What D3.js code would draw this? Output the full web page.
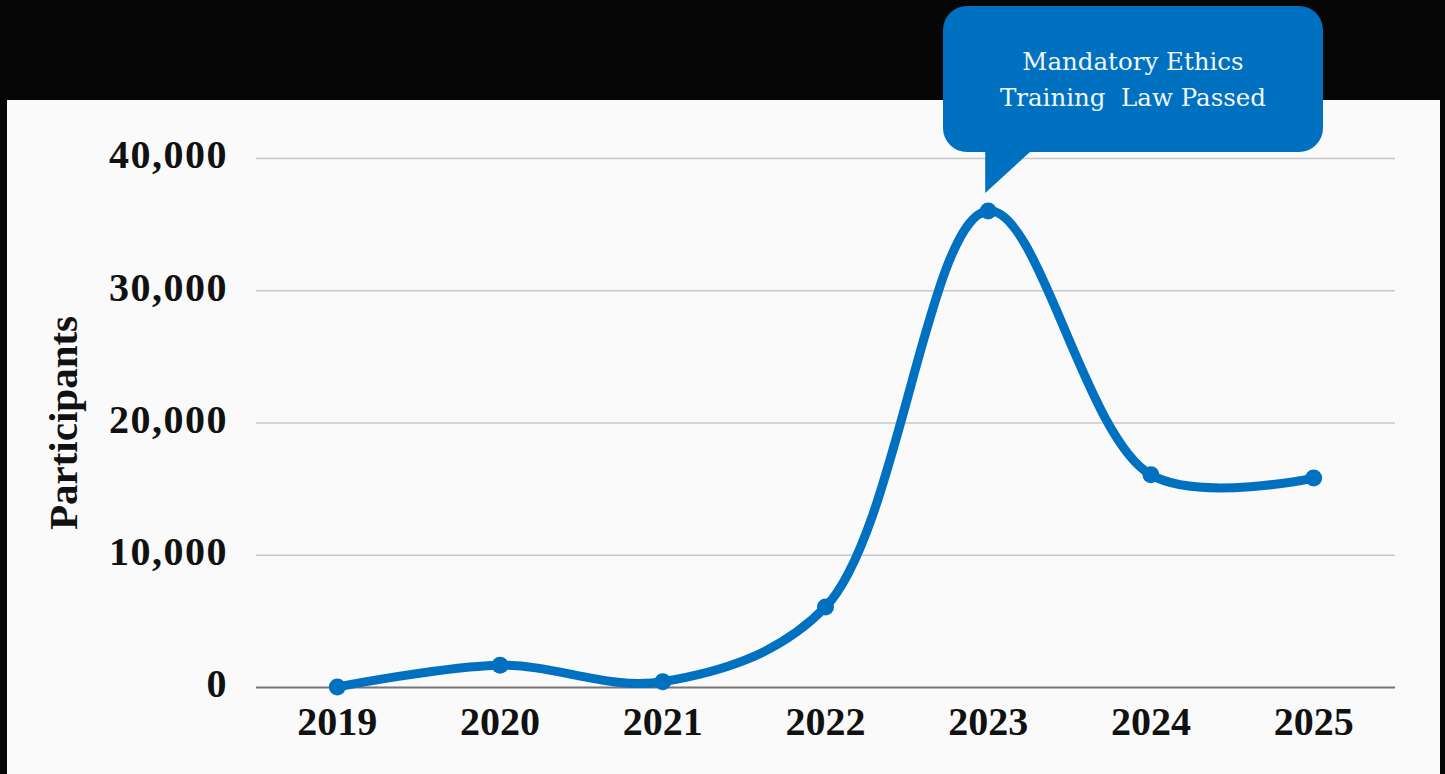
<!DOCTYPE html>
<html>
<head>
<meta charset="utf-8">
<script src="https://cdn.jsdelivr.net/npm/d3@7"></script>
<style>
  html, body { margin: 0; padding: 0; background: #060606; }
  svg { display: block; }
</style>
</head>
<body>
<svg id="chart" width="1445" height="774"></svg>
<script>
// Annual participants in ethics training
const years = ["2019", "2020", "2021", "2022", "2023", "2024", "2025"];
const participants = [0, 1650, 400, 6050, 36000, 16050, 15800];
const yTicks = [0, 10000, 20000, 30000, 40000];
const calloutYear = "2023";
const calloutLines = ["Mandatory Ethics", "Training  Law Passed"];
const yTitle = "Participants";

const W = 1445, H = 774;
const svg = d3.select("#chart");

// dark frame and light panel
svg.append("rect").attr("width", W).attr("height", H).attr("fill", "#060606");
svg.append("rect").attr("x", 7).attr("y", 100).attr("width", 1433).attr("height", H - 100).attr("fill", "#fafafa");

const plot = { left: 256, right: 1395, top: 158, bottom: 687 };

const x = d3.scaleBand().domain(years).range([plot.left, plot.right]).padding(0);
const y = d3.scaleLinear().domain([0, 40000]).range([plot.bottom, plot.top]);
const cx = d => x(d) + x.bandwidth() / 2;

const boldFont = "'Liberation Serif', 'Times New Roman', serif";

// horizontal gridlines
const gridAxis = d3.axisLeft(y).tickValues(yTicks).tickSize(-(plot.right - plot.left)).tickFormat("");
const grid = svg.append("g").attr("transform", `translate(${plot.left},0)`).call(gridAxis);
grid.select(".domain").remove();
grid.selectAll(".tick line")
  .attr("stroke", d => d === 0 ? "#777" : "#c8c8c8")
  .attr("stroke-width", d => d === 0 ? 2 : 1.5);

// y tick labels
const yAxis = d3.axisLeft(y).tickValues(yTicks).tickSize(0).tickPadding(0).tickFormat(d3.format(","));
const yg = svg.append("g").attr("transform", `translate(228,0)`).call(yAxis);
yg.select(".domain").remove();
yg.selectAll(".tick text")
  .attr("font-family", boldFont)
  .attr("font-weight", "bold")
  .attr("font-size", 40)
  .attr("letter-spacing", 1.5)
  .attr("fill", "#111")
  .attr("dy", "0.32em")
  .attr("y", -3);

// x tick labels
const xAxis = d3.axisBottom(x).tickSize(0).tickPadding(0);
const xg = svg.append("g").attr("transform", `translate(0,${plot.bottom})`).call(xAxis);
xg.select(".domain").remove();
xg.selectAll(".tick text")
  .attr("font-family", boldFont)
  .attr("font-weight", "bold")
  .attr("font-size", 40)
  .attr("fill", "#111")
  .attr("dy", 0)
  .attr("y", 48);

// y axis title
svg.append("text")
  .attr("transform", `translate(77,${(315 + 531) / 2}) rotate(-90)`)
  .attr("text-anchor", "middle")
  .attr("font-family", boldFont)
  .attr("font-weight", "bold")
  .attr("font-size", 41)
  .attr("fill", "#111")
  .text(yTitle);

// smoothed line
const data = years.map((yr, i) => ({ year: yr, value: participants[i] }));
const line = d3.line()
  .x(d => cx(d.year))
  .y(d => y(d.value))
  .curve(d3.curveCatmullRom.alpha(0.5));

svg.append("path")
  .datum(data)
  .attr("d", line)
  .attr("fill", "none")
  .attr("stroke", "#0070c0")
  .attr("stroke-width", 9)
  .attr("stroke-linecap", "round")
  .attr("stroke-linejoin", "round");

svg.append("g").selectAll("circle")
  .data(data)
  .join("circle")
  .attr("cx", d => cx(d.year))
  .attr("cy", d => y(d.value))
  .attr("r", 8.5)
  .attr("fill", "#0070c0");

// speech-bubble callout pointing at the peak year
const peak = data.find(d => d.year === calloutYear);
const tipX = cx(peak.year) - 3, tipY = y(peak.value) - 18;
const bx = 943, by = 6, bw = 380, bh = 146, r = 24;
const bubble = d3.path();
bubble.moveTo(bx + r, by);
bubble.lineTo(bx + bw - r, by);
bubble.arcTo(bx + bw, by, bx + bw, by + r, r);
bubble.lineTo(bx + bw, by + bh - r);
bubble.arcTo(bx + bw, by + bh, bx + bw - r, by + bh, r);
bubble.lineTo(1030, by + bh);
bubble.lineTo(tipX, tipY);
bubble.lineTo(tipX, by + bh);
bubble.lineTo(bx + r, by + bh);
bubble.arcTo(bx, by + bh, bx, by + bh - r, r);
bubble.lineTo(bx, by + r);
bubble.arcTo(bx, by, bx + r, by, r);
bubble.closePath();
svg.append("path").attr("d", bubble.toString()).attr("fill", "#0070c0");

svg.append("text")
  .attr("text-anchor", "middle")
  .attr("font-family", "'DejaVu Serif', serif")
  .attr("font-size", 24.5)
  .attr("fill", "#f2f6fb")
  .style("white-space", "pre")
  .selectAll("tspan")
  .data(calloutLines)
  .join("tspan")
  .attr("x", bx + bw / 2)
  .attr("y", (d, i) => 70 + i * 36)
  .text(d => d);
</script>
</body>
</html>
